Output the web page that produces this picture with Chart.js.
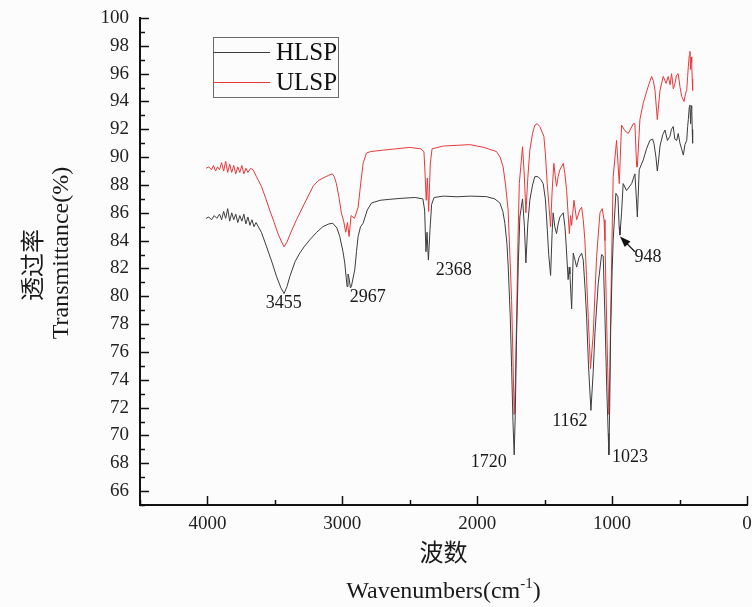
<!DOCTYPE html>
<html lang="zh">
<head>
<meta charset="UTF-8" />
<title>HLSP / ULSP FTIR</title>
<script src="https://cdn.jsdelivr.net/npm/chart.js"></script>
<style>
  html, body { margin: 0; padding: 0; background: #fcfcfc; }
  #wrap { width: 752px; height: 607px; }
</style>
</head>
<body>
<div id="wrap"><canvas id="ftir" width="752" height="607"></canvas></div>
<script>
// HLSP spectrum (wavenumber cm-1, transmittance %)
const hlspWave = [4010, 3990, 3970, 3950, 3930, 3910, 3895, 3880, 3865, 3850, 3835, 3820, 3805, 3790, 3775, 3760, 3745, 3730, 3715, 3700,
  3685, 3670, 3655, 3640, 3600, 3563, 3520, 3487, 3455, 3432, 3410, 3390, 3350, 3316, 3280, 3242, 3190, 3145, 3100, 3071,
  3040, 3019, 2995, 2982, 2965, 2958, 2950, 2940, 2933, 2908, 2895, 2883, 2865, 2846, 2815, 2784, 2720, 2648, 2550, 2460,
  2403, 2390, 2380, 2372, 2362, 2350, 2338, 2320, 2250, 2150, 2050, 1931, 1870, 1832, 1810, 1795, 1780, 1770, 1755, 1745,
  1735, 1726, 1718, 1708, 1695, 1684, 1664, 1650, 1639, 1625, 1610, 1590, 1573, 1550, 1530, 1511, 1495, 1486, 1470, 1456,
  1445, 1437, 1425, 1412, 1400, 1387, 1362, 1350, 1343, 1326, 1318, 1313, 1300, 1288, 1275, 1263, 1245, 1226, 1214, 1200,
  1189, 1175, 1157, 1140, 1127, 1103, 1078, 1066, 1053, 1040, 1029, 1024, 1018, 1011, 1000, 992, 972, 957, 948, 942,
  930, 918, 893, 855, 831, 820, 813, 799, 769, 745, 720, 700, 690, 675, 665, 655, 645, 625, 608, 590,
  571, 560, 547, 535, 521, 510, 497, 485, 472, 460, 447, 440, 435, 428, 423, 418, 414, 410, 406, 403];
const hlspT = [85.6, 85.7, 85.5, 85.8, 85.6, 85.9, 85.5, 86.1, 85.6, 86.3, 85.4, 86.0, 85.5, 85.9, 85.3, 85.8, 85.4, 85.9, 85.2, 85.7,
  85.1, 85.5, 85.0, 85.3, 84.6, 83.6, 82.4, 81.4, 80.6, 80.2, 80.7, 81.4, 82.5, 83.1, 83.6, 84.05, 84.6, 85.0, 85.2, 85.25,
  84.9, 84.3, 83.2, 82.4, 80.7, 81.6, 81.3, 80.6, 80.7, 81.9, 83.2, 84.3, 85.0, 85.25, 86.2, 86.7, 86.9, 86.97, 87.05, 87.1,
  87.0, 86.2, 83.2, 84.6, 82.6, 84.8, 86.6, 87.1, 87.2, 87.15, 87.2, 87.16, 87.0, 86.7, 86.1, 85.25, 83.8, 82.1, 78.5, 74.9,
  71.0, 68.6, 71.5, 77.3, 82.5, 85.7, 87.0, 85.0, 82.4, 85.2, 86.9, 88.0, 88.6, 88.6, 88.4, 88.1, 87.0, 85.7, 83.0, 81.5,
  84.5, 86.0, 85.0, 84.5, 85.2, 85.7, 86.0, 85.0, 84.05, 81.2, 82.1, 81.6, 79.1, 83.1, 82.6, 82.1, 82.8, 83.1, 82.6, 80.5,
  78.5, 75.0, 71.8, 74.6, 77.4, 80.9, 83.0, 82.9, 78.5, 73.5, 70.15, 68.6, 72.0, 77.4, 81.8, 84.05, 87.4, 87.16, 85.0, 84.4,
  86.0, 88.1, 87.6, 88.1, 88.8, 87.0, 85.7, 89.1, 89.8, 90.6, 91.2, 91.3, 91.0, 90.0, 89.0, 89.8, 90.8, 91.6, 91.95, 91.2,
  91.5, 92.0, 92.2, 91.3, 91.2, 91.7, 91.0, 90.6, 90.15, 90.9, 91.2, 92.2, 92.7, 93.6, 93.75, 92.4, 93.5, 93.7, 92.0, 91.0];

// ULSP spectrum
const ulspWave = [4010, 3990, 3970, 3955, 3940, 3925, 3910, 3895, 3880, 3865, 3850, 3835, 3820, 3805, 3790, 3775, 3760, 3745, 3730, 3715,
  3700, 3680, 3662, 3637, 3600, 3570, 3539, 3505, 3477, 3450, 3432, 3410, 3390, 3340, 3279, 3217, 3180, 3143, 3100, 3074,
  3060, 3044, 3025, 3007, 2990, 2975, 2962, 2950, 2935, 2910, 2883, 2865, 2846, 2821, 2790, 2700, 2600, 2500, 2420, 2395,
  2385, 2378, 2370, 2360, 2348, 2335, 2250, 2150, 2055, 1950, 1857, 1830, 1808, 1790, 1771, 1758, 1745, 1735, 1726, 1718,
  1708, 1698, 1688, 1664, 1650, 1639, 1625, 1610, 1590, 1573, 1555, 1536, 1506, 1495, 1481, 1456, 1445, 1432, 1420, 1412,
  1400, 1387, 1362, 1350, 1337, 1317, 1308, 1300, 1283, 1263, 1240, 1226, 1214, 1202, 1190, 1177, 1160, 1140, 1115, 1090,
  1073, 1060, 1053, 1040, 1033, 1024, 1016, 1009, 992, 967, 947, 930, 905, 880, 843, 831, 818, 813, 794, 769,
  732, 707, 695, 682, 665, 645, 621, 600, 584, 570, 559, 546, 534, 522, 510, 496, 484, 467, 455, 447,
  440, 435, 428, 423, 418, 414, 410, 406, 403];
const ulspT = [89.2, 89.3, 89.1, 89.4, 89.0, 89.3, 89.1, 89.6, 89.0, 89.7, 88.9, 89.5, 88.9, 89.4, 88.8, 89.3, 88.9, 89.4, 88.8, 89.2,
  88.9, 89.2, 89.1, 88.6, 87.9, 87.1, 86.2, 85.3, 84.5, 83.9, 83.56, 83.9, 84.4, 85.5, 86.7, 87.9, 88.3, 88.5, 88.7, 88.8,
  88.6, 88.1, 87.1, 86.0, 85.4, 84.6, 85.3, 84.3, 85.8, 85.6, 86.4, 88.0, 89.55, 90.3, 90.4, 90.5, 90.6, 90.7, 90.6, 90.4,
  88.5, 86.9, 88.5, 86.1, 89.5, 90.6, 90.8, 90.85, 90.9, 90.7, 90.4, 90.0, 89.3, 88.0, 86.2, 83.0, 79.7, 75.5, 71.5, 73.5,
  78.5, 84.0, 88.1, 90.75, 88.5, 86.0, 88.5, 90.5, 91.7, 92.3, 92.4, 92.2, 91.5, 90.3, 88.1, 85.0, 87.5, 89.55, 88.5, 87.9,
  88.6, 89.1, 89.55, 88.8, 87.6, 84.5, 85.8, 85.1, 86.9, 85.5, 86.2, 86.4, 85.5, 84.05, 81.5, 78.5, 74.8, 77.3, 82.85, 86.0,
  86.3, 85.5, 84.0, 78.0, 74.9, 71.5, 75.0, 79.7, 88.6, 91.2, 88.1, 92.3, 91.9, 91.7, 92.4, 92.4, 89.3, 89.3, 92.7, 93.9,
  95.1, 95.8, 95.5, 94.8, 92.7, 94.8, 95.8, 95.3, 95.8, 95.2, 96.0, 94.9, 95.3, 95.9, 96.0, 95.0, 94.35, 94.0, 94.6, 94.8,
  95.8, 96.5, 97.3, 97.6, 96.3, 97.2, 96.8, 95.6, 94.8];

// axis ranges and tick steps
const waveRange = [0, 4500];
const waveMajor = 1000;
const waveMinor = 500;
const transRange = [65, 100];
const transMajor = 2;
const transMinor = 1;

// peak annotations: label text, anchor wavenumber, anchor transmittance
const peakText = ["3455", "2967", "2368", "1720", "1162", "1023", "948"];
const peakWave = [3435, 2812, 2174, 1914, 1313, 868, 734];
const peakT = [79.5, 79.9, 81.9, 68.1, 71.0, 68.4, 82.8];
// arrow for the 948 band: from (tail) to (head)
const arrowWave = [831, 942];
const arrowT = [83.2, 84.3];

const seriesNames = ["HLSP", "ULSP"];
const seriesColors = ["#3c3c3c", "#e8383a"];

const serif = '"Liberation Serif", "Noto Sans CJK SC", serif';

function pts(xs, ys) {
  return xs.map((x, i) => ({ x: x, y: ys[i] }));
}

// ticks pointing into the plot, axis titles, legend box and peak labels
const decor = {
  id: "decor",
  afterDraw(chart) {
    const ctx = chart.ctx;
    const area = chart.chartArea;
    const xs = chart.scales.x;
    const ys = chart.scales.y;
    ctx.save();
    ctx.strokeStyle = "#111";
    ctx.lineWidth = 1.5;
    xs.ticks.forEach((t) => {
      const px = Math.round(xs.getPixelForValue(t.value)) + 0.5;
      const len = t.value % waveMajor === 0 ? 9 : 5;
      ctx.beginPath();
      ctx.moveTo(px, area.bottom);
      ctx.lineTo(px, area.bottom - len);
      ctx.stroke();
    });
    ys.ticks.forEach((t) => {
      const py = Math.round(ys.getPixelForValue(t.value)) + 0.5;
      const len = t.value % transMajor === 0 ? 9 : 5;
      ctx.beginPath();
      ctx.moveTo(area.left, py);
      ctx.lineTo(area.left + len, py);
      ctx.stroke();
    });

    // axis titles
    ctx.fillStyle = "#1a1a1a";
    ctx.textAlign = "center";
    ctx.textBaseline = "middle";
    const cx = (area.left + area.right) / 2;
    ctx.font = "24px " + serif;
    ctx.fillText("波数", cx, 555);
    const main = "Wavenumbers(cm";
    ctx.font = "24px " + serif;
    const w1 = ctx.measureText(main).width;
    const w3 = ctx.measureText(")").width;
    ctx.font = "15px " + serif;
    const w2 = ctx.measureText("-1").width;
    let sx = cx - (w1 + w2 + w3) / 2;
    ctx.textAlign = "left";
    ctx.font = "24px " + serif;
    ctx.fillText(main, sx, 592);
    ctx.font = "15px " + serif;
    ctx.fillText("-1", sx + w1, 584);
    ctx.font = "24px " + serif;
    ctx.fillText(")", sx + w1 + w2, 592);

    ctx.textAlign = "center";
    ctx.save();
    ctx.translate(35, 265);
    ctx.rotate(-Math.PI / 2);
    ctx.font = "24px " + serif;
    ctx.fillText("透过率", 0, 0);
    ctx.restore();
    ctx.save();
    ctx.translate(62, 253);
    ctx.rotate(-Math.PI / 2);
    ctx.font = "24px " + serif;
    ctx.fillText("Transmittance(%)", 0, 0);
    ctx.restore();

    // legend
    const lx = area.left + 73;
    const ly = area.top + 19;
    ctx.strokeStyle = "#6a6a6a";
    ctx.lineWidth = 1;
    ctx.strokeRect(lx + 0.5, ly + 0.5, 125, 60);
    ctx.font = "25px " + serif;
    ctx.textAlign = "left";
    seriesNames.forEach((name, i) => {
      const yy = ly + 15 + i * 30;
      ctx.strokeStyle = seriesColors[i];
      ctx.beginPath();
      ctx.moveTo(lx, yy + 0.5);
      ctx.lineTo(lx + 57, yy + 0.5);
      ctx.stroke();
      ctx.fillStyle = "#111";
      ctx.fillText(name, lx + 63, yy + 1);
    });

    // peak labels
    ctx.font = "18px " + serif;
    ctx.textAlign = "center";
    ctx.fillStyle = "#1a1a1a";
    peakText.forEach((txt, i) => {
      ctx.fillText(txt, xs.getPixelForValue(peakWave[i]), ys.getPixelForValue(peakT[i]));
    });

    // arrow
    const ax0 = xs.getPixelForValue(arrowWave[0]);
    const ay0 = ys.getPixelForValue(arrowT[0]);
    const ax1 = xs.getPixelForValue(arrowWave[1]);
    const ay1 = ys.getPixelForValue(arrowT[1]);
    const ang = Math.atan2(ay1 - ay0, ax1 - ax0);
    ctx.strokeStyle = "#111";
    ctx.lineWidth = 1.2;
    ctx.beginPath();
    ctx.moveTo(ax0, ay0);
    ctx.lineTo(ax1 - 8 * Math.cos(ang), ay1 - 8 * Math.sin(ang));
    ctx.stroke();
    ctx.fillStyle = "#111";
    ctx.beginPath();
    ctx.moveTo(ax1, ay1);
    ctx.lineTo(ax1 - 11 * Math.cos(ang) + 4 * Math.sin(ang), ay1 - 11 * Math.sin(ang) - 4 * Math.cos(ang));
    ctx.lineTo(ax1 - 11 * Math.cos(ang) - 4 * Math.sin(ang), ay1 - 11 * Math.sin(ang) + 4 * Math.cos(ang));
    ctx.closePath();
    ctx.fill();
    ctx.restore();
  },
};

new Chart(document.getElementById("ftir"), {
  type: "line",
  data: {
    datasets: [
      {
        label: seriesNames[0],
        data: pts(hlspWave, hlspT),
        borderColor: seriesColors[0],
        borderWidth: 1,
        pointRadius: 0,
        tension: 0,
      },
      {
        label: seriesNames[1],
        data: pts(ulspWave, ulspT),
        borderColor: seriesColors[1],
        borderWidth: 1,
        pointRadius: 0,
        tension: 0,
      },
    ],
  },
  options: {
    responsive: false,
    animation: false,
    layout: { padding: { top: 18, right: 5, left: 0, bottom: 0 } },
    plugins: { legend: { display: false }, tooltip: { enabled: false } },
    scales: {
      x: {
        type: "linear",
        reverse: true,
        min: waveRange[0],
        max: waveRange[1],
        grid: { display: false, drawTicks: false },
        border: { display: true, color: "#111", width: 2 },
        ticks: {
          stepSize: waveMinor,
          autoSkip: false,
          maxRotation: 0,
          padding: 8,
          color: "#222",
          font: { family: serif, size: 19 },
          callback: (v) => (v % waveMajor === 0 && v <= 4000 ? String(v) : ""),
        },
        afterFit: (s) => { s.height = 102; s.paddingLeft = 0; s.paddingRight = 0; },
      },
      y: {
        min: transRange[0],
        max: transRange[1],
        grid: { display: false, drawTicks: false },
        border: { display: true, color: "#111", width: 2 },
        ticks: {
          stepSize: transMinor,
          autoSkip: false,
          padding: 11,
          color: "#222",
          font: { family: serif, size: 19 },
          callback: (v) => (v % transMajor === 0 ? String(v) : ""),
        },
        afterFit: (s) => { s.width = 140; s.paddingTop = 0; s.paddingBottom = 0; },
      },
    },
  },
  plugins: [decor],
});
</script>
</body>
</html>
